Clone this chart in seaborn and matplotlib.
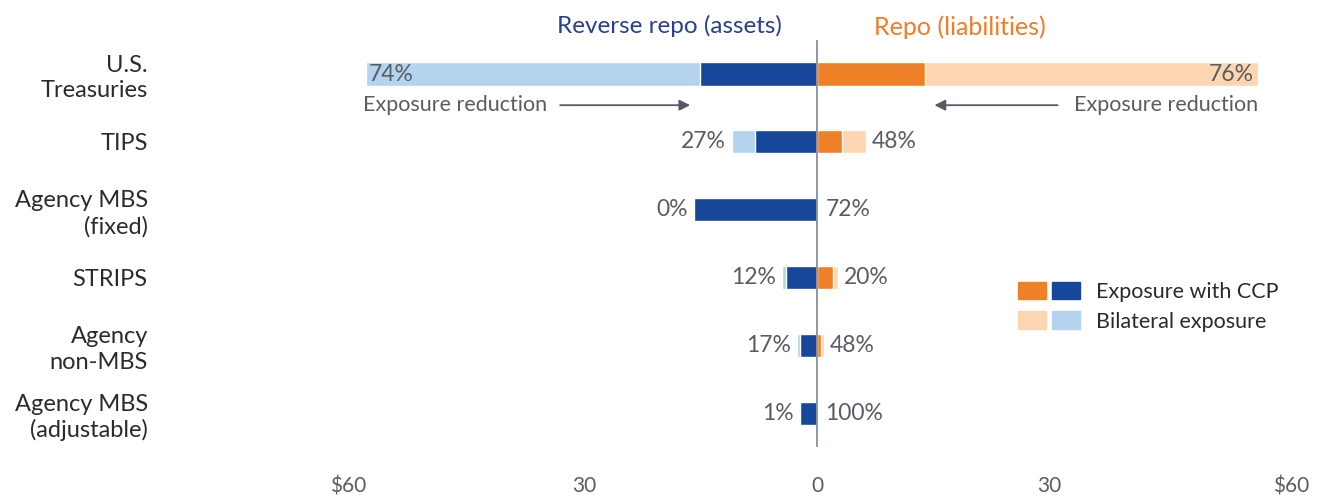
import matplotlib
matplotlib.use("Agg")
import matplotlib.pyplot as plt
from matplotlib.legend_handler import HandlerTuple
from matplotlib.patches import Patch
from matplotlib.transforms import ScaledTranslation
import pandas as pd
import seaborn as sns

# values in $ billions
categories = ["U.S.\nTreasuries", "TIPS", "Agency MBS\n(fixed)", "STRIPS",
              "Agency\nnon-MBS", "Agency MBS\n(adjustable)"]
rr_total = [58.2, 11.0, 15.9, 4.5, 2.6, 2.15]      # reverse repo, bilateral + CCP
rr_ccp = [15.1, 8.0, 15.9, 4.0, 2.2, 2.13]         # reverse repo with CCP
repo_total = [56.9, 6.3, 0.3, 2.7, 0.9, 0.05]      # repo, bilateral + CCP
repo_ccp = [13.9, 3.2, 0.08, 2.1, 0.5, 0.0]        # repo with CCP
rr_pct = ["74%", "27%", "0%", "12%", "17%", "1%"]
repo_pct = ["76%", "48%", "72%", "20%", "48%", "100%"]
tick_vals = [-60, -30, 0, 30, 60]
tick_labels = ["$60", "30", "0", "30", "$60"]

DARK_BLUE = "#17479a"
LIGHT_BLUE = "#b3d3ee"
ORANGE = "#ee8127"
LIGHT_ORANGE = "#fdd6b1"
GREY = "#595c63"

sns.set_theme(style="white")
plt.rcParams["font.family"] = ["Lato", "DejaVu Sans"]

df = pd.DataFrame({
    "cat": categories,
    "rr_total": [-v for v in rr_total],
    "rr_ccp": [-v for v in rr_ccp],
    "repo_total": repo_total,
    "repo_ccp": repo_ccp,
})

fig = plt.figure(figsize=(13.2, 4.95), dpi=100)
ax = fig.add_axes([352 / 1320, 0.097, (1282 - 352) / 1320, 0.919 - 0.097])

bar_w = 0.34
sns.barplot(data=df, x="rr_total", y="cat", color=LIGHT_BLUE, width=bar_w,
            saturation=1, orient="h", ax=ax)
sns.barplot(data=df, x="rr_ccp", y="cat", color=DARK_BLUE, width=bar_w,
            saturation=1, orient="h", ax=ax)
sns.barplot(data=df, x="repo_total", y="cat", color=LIGHT_ORANGE, width=bar_w,
            saturation=1, orient="h", ax=ax)
sns.barplot(data=df, x="repo_ccp", y="cat", color=ORANGE, width=bar_w,
            saturation=1, orient="h", ax=ax)

ax.axvline(0, color="#8a8f99", lw=1.3, zorder=5)
ax.set_xlim(-60, 60)
ax.set_ylim(5.5, -0.5)
ax.set_xlabel("")
ax.set_ylabel("")
sns.despine(ax=ax, left=True, bottom=True)
ax.set_xticks(tick_vals)
ax.set_xticklabels(tick_labels)
ax.tick_params(axis="x", length=0, pad=21, labelsize=15, labelcolor=GREY)
ax.tick_params(axis="y", length=0, pad=147, labelsize=17, labelcolor="#2b2b2b")
for lab in ax.get_yticklabels():
    lab.set_linespacing(1.25)
# the outer "$60" labels sit a little further out in the original
xt = ax.get_xticklabels()
xt[0].set_transform(xt[0].get_transform() + ScaledTranslation(-4 / 100, 0, fig.dpi_scale_trans))
xt[-1].set_transform(xt[-1].get_transform() + ScaledTranslation(9 / 100, 0, fig.dpi_scale_trans))

# percentage labels (bilateral share)
for i in range(len(categories)):
    if i == 0:
        ax.text(-rr_total[i] + 0.4, i, rr_pct[i], ha="left", va="center",
                fontsize=16.5, color=GREY)
        ax.text(repo_total[i] - 0.6, i, repo_pct[i], ha="right", va="center",
                fontsize=16.5, color=GREY)
    else:
        ax.text(-rr_total[i] - 0.8, i, rr_pct[i], ha="right", va="center",
                fontsize=16.5, color=GREY)
        ax.text(max(repo_total[i], 0.3) + 0.8, i, repo_pct[i], ha="left",
                va="center", fontsize=16.5, color=GREY)

# exposure reduction arrows
arrow_kw = dict(arrowstyle="-|>", color="#555b66", lw=1.3, mutation_scale=16)
ax.text(-58.6, 0.46, "Exposure reduction", ha="left", va="center",
        fontsize=15.5, color=GREY)
ax.annotate("", xy=(-rr_ccp[0] - 0.9, 0.46), xytext=(-33.5, 0.46),
            arrowprops=arrow_kw)
ax.text(56.9, 0.46, "Exposure reduction", ha="right", va="center",
        fontsize=15.5, color=GREY)
ax.annotate("", xy=(repo_ccp[0] + 0.9, 0.46), xytext=(31.4, 0.46),
            arrowprops=arrow_kw)

# headers
fig.text(669 / 1320, 1 - 26 / 495, "Reverse repo (assets)", ha="center",
         va="center", fontsize=17.5, color="#27408f")
fig.text(960 / 1320, 1 - 27 / 495, "Repo (liabilities)", ha="center",
         va="center", fontsize=18, color="#ee7d2a")

# legend
handles = [
    (Patch(color=ORANGE), Patch(color=DARK_BLUE)),
    (Patch(color=LIGHT_ORANGE), Patch(color=LIGHT_BLUE)),
]
fig.legend(handles, ["Exposure with CCP", "Bilateral exposure"],
           handler_map={tuple: HandlerTuple(ndivide=None, pad=0.3)},
           loc="upper left", bbox_to_anchor=(1007 / 1320, 1 - 271 / 495),
           frameon=False, borderpad=0, fontsize=15.5, handlelength=2.9,
           handleheight=0.85, handletextpad=0.75, labelspacing=0.45,
           labelcolor="#2b2b2b")

fig.savefig("out.png", dpi=100)
